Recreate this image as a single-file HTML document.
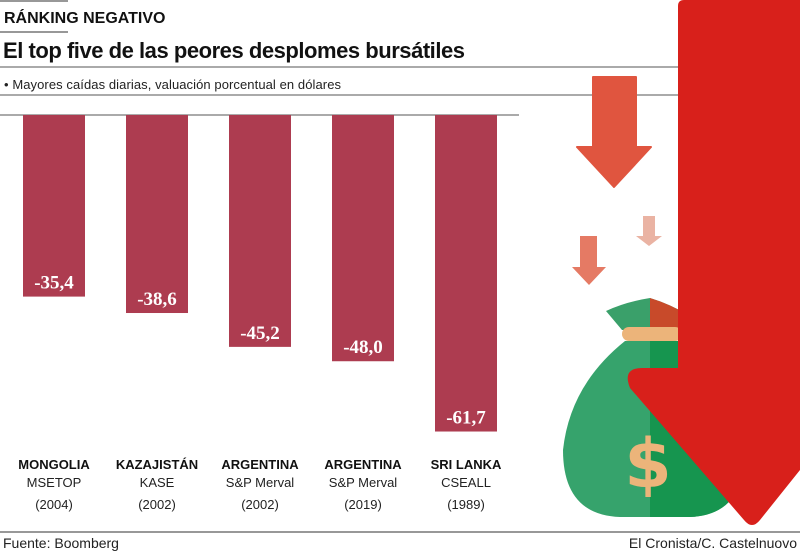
<!DOCTYPE html>
<html><head><meta charset="utf-8"><style>
body{margin:0;width:800px;height:552px;overflow:hidden;background:#fff;font-family:"Liberation Sans",sans-serif}
svg{display:block}
</style></head><body>
<svg width="800" height="552" viewBox="0 0 800 552">
<line x1="0" y1="1" x2="68" y2="1" stroke="#777" stroke-width="1.5"/>
<text x="4" y="23" font-size="16" font-weight="bold" fill="#111">RÁNKING NEGATIVO</text>
<line x1="0" y1="32" x2="68" y2="32" stroke="#777" stroke-width="1.5"/>
<text x="3" y="58" font-size="22" font-weight="bold" fill="#111" textLength="462">El top five de las peores desplomes bursátiles</text>
<line x1="0" y1="67" x2="690" y2="67" stroke="#777" stroke-width="1.2"/>
<text x="4" y="89" font-size="13" fill="#222" textLength="337">• Mayores caídas diarias, valuación porcentual en dólares</text>
<line x1="0" y1="95" x2="690" y2="95" stroke="#777" stroke-width="1.2"/>
<line x1="0" y1="115" x2="519" y2="115" stroke="#777" stroke-width="1.2"/>
<g id="bars"></g>
<g>
<path d="M593,77 L636,77 L636,147 L651,147 L614,187 L577,147 L593,147Z" fill="#e0553f" stroke="#e0553f" stroke-width="2" stroke-linejoin="round"/>
<path d="M580,236 L597,236 L597,267 L606,267 L589,285 L572,267 L580,267Z" fill="#e57a64"/>
<path d="M643,216 L655,216 L655,236 L662,236 L649,246 L636,236 L643,236Z" fill="#eab3a3"/>
</g>
<g>
<path d="M606,311 Q625,302 650,298 Q670,304 690,316 L678,330 L622,330Z" fill="#3aa06a"/>
<path d="M650,298 Q670,304 690,316 L678,330 L650,330Z" fill="#c84a2a"/>
<rect x="622" y="327" width="60" height="14" rx="7" fill="#ecb47a"/>
<path d="M625,341 Q570,385 563,450 Q563,515 620,517 L690,517 Q745,515 745,450 Q735,385 680,341Z" fill="#36a36c"/>
<path d="M650,341 L680,341 Q735,385 745,450 Q745,515 690,517 L650,517Z" fill="#16954f"/>
<text x="648" y="487" font-size="68" font-weight="bold" fill="#ecb47a" text-anchor="middle" font-family="DejaVu Sans, sans-serif">$</text>
</g>
<path d="M684,0 L800,0 L800,470 L760,520 Q752,530 744,520 L630,388 Q622,368 642,368 L678,368 L678,6 Q678,0 684,0Z" fill="#d8201b"/>
<line x1="0" y1="532" x2="800" y2="532" stroke="#777" stroke-width="1.5"/>
<text x="3" y="548" font-size="14" fill="#222">Fuente: Boomberg</text>
<text x="797" y="548" font-size="14" fill="#222" text-anchor="end">El Cronista/C. Castelnuovo</text>
</svg>
<script>
const categories=["MONGOLIA","KAZAJISTÁN","ARGENTINA","ARGENTINA","SRI LANKA"];
const indices=["MSETOP","KASE","S&P Merval","S&P Merval","CSEALL"];
const years=["(2004)","(2002)","(2002)","(2019)","(1989)"];
const values=[-35.4,-38.6,-45.2,-48.0,-61.7];
const labels=["-35,4","-38,6","-45,2","-48,0","-61,7"];
const NS="http://www.w3.org/2000/svg";
const y0=115, pxPerUnit=5.13;
function yScale(v){return y0+(-v)*pxPerUnit;}
function xScale(i){return 23+i*103;}
const bw=62;
const g=document.getElementById('bars');
function mk(tag,attrs){const e=document.createElementNS(NS,tag);for(const k in attrs)e.setAttribute(k,attrs[k]);g.appendChild(e);return e;}
values.forEach((v,i)=>{
  const x=xScale(i), yb=yScale(v), cx=x+bw/2;
  const r=mk('rect',{x:x,y:y0,width:bw,height:yb-y0,fill:'#ad3c50'});
  
  
  const t=mk('text',{x:cx,y:yb-8,'text-anchor':'middle','font-size':'19','font-weight':'bold',fill:'#fff','font-family':'Liberation Serif, serif'});
  t.textContent=labels[i];
  
  
  const c=mk('text',{x:cx,y:469,'text-anchor':'middle','font-size':'13','font-weight':'bold',fill:'#111'});
  c.textContent=categories[i];
  
  
  const n=mk('text',{x:cx,y:487,'text-anchor':'middle','font-size':'13',fill:'#222'});
  n.textContent=indices[i];
  
  
  const yr=mk('text',{x:cx,y:509,'text-anchor':'middle','font-size':'13',fill:'#222'});
  yr.textContent=years[i];
  
  
});
</script>
</body></html>
